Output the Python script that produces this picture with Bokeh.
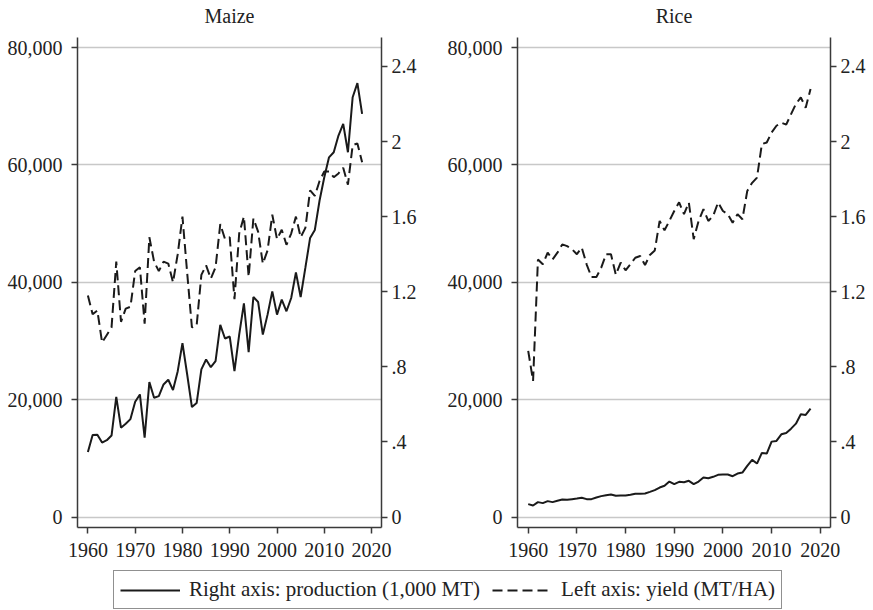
from bokeh.plotting import figure
from bokeh.models import (Range1d, LinearAxis, FixedTicker, NumeralTickFormatter,
                          CustomJSTickFormatter, Legend, LegendItem)
from bokeh.core.properties import value
from bokeh.layouts import column, row
from bokeh.embed import file_html
from bokeh.resources import INLINE

years = list(range(1960, 2019))
panel_titles = ["Maize", "Rice"]

maize_production = [11100, 14000, 14050, 12700, 13100, 13900, 20500, 15240, 15900, 16700,
                    19660, 20900, 13540, 23000, 20340, 20620, 22600, 23400, 21640, 24870,
                    29630, 24300, 18750, 19430, 25160, 26860, 25550, 26570, 32750, 30430,
                    30770, 24870, 31100, 36430, 28100, 37500, 36660, 31100, 34500, 38470,
                    34500, 37050, 35070, 37340, 41700, 37500, 42500, 47570, 48930, 53950,
                    57900, 61300, 62170, 65020, 67000, 62170, 71550, 73940, 68710]
maize_yield = [1.18, 1.08, 1.10, 0.93, 0.97, 1.01, 1.36, 1.04, 1.11, 1.12,
               1.31, 1.33, 1.03, 1.49, 1.36, 1.31, 1.36, 1.35, 1.25, 1.40,
               1.60, 1.30, 1.01, 1.02, 1.29, 1.34, 1.27, 1.33, 1.56, 1.48,
               1.49, 1.16, 1.51, 1.60, 1.28, 1.59, 1.52, 1.35, 1.42, 1.61,
               1.48, 1.53, 1.45, 1.51, 1.60, 1.49, 1.54, 1.74, 1.71, 1.79,
               1.84, 1.84, 1.81, 1.83, 1.86, 1.77, 1.98, 1.99, 1.89]
rice_production = [2210, 1980, 2550, 2380, 2720, 2550, 2780, 3000, 2950, 3060,
                   3170, 3290, 3060, 3060, 3340, 3570, 3740, 3850, 3630, 3680,
                   3680, 3800, 3970, 3970, 4020, 4300, 4590, 5040, 5330, 6060,
                   5610, 6010, 5950, 6180, 5610, 6060, 6740, 6630, 6860, 7200,
                   7250, 7250, 6970, 7420, 7590, 8730, 9750, 9120, 10940, 10820,
                   12860, 12980, 14110, 14330, 15070, 15920, 17510, 17400, 18470]
rice_yield = [0.885, 0.725, 1.372, 1.346, 1.408, 1.372, 1.408, 1.452, 1.443, 1.426,
              1.40, 1.435, 1.346, 1.278, 1.278, 1.328, 1.40, 1.40, 1.29, 1.355,
              1.314, 1.346, 1.381, 1.39, 1.342, 1.396, 1.42, 1.577, 1.527, 1.577,
              1.63, 1.676, 1.613, 1.675, 1.48, 1.577, 1.64, 1.577, 1.604, 1.675,
              1.63, 1.613, 1.568, 1.613, 1.586, 1.737, 1.78, 1.808, 1.986, 1.995,
              2.048, 2.084, 2.10, 2.09, 2.146, 2.20, 2.235, 2.18, 2.28]

left_ticks = [0, 20000, 40000, 60000, 80000]
right_ticks = [0, 0.4, 0.8, 1.2, 1.6, 2.0, 2.4]
x_ticks = [1960, 1970, 1980, 1990, 2000, 2010, 2020]
legend_labels = ["Right axis: production (1,000 MT)", "Left axis: yield (MT/HA)"]

FONT = "Liberation Serif"
INK = "#1a1a1a"
AXIS = "#3a3a3a"
GRID = "#c8c8c8"
RATIO = 32000.0
X0, X1 = 1957.8, 2022.1
Y0, Y1 = -1773, 81722
TOP = 34  # height of the title strip


def style_axis(ax, standoff):
    ax.axis_line_color = AXIS
    ax.axis_line_width = 1.5
    ax.major_tick_line_color = AXIS
    ax.major_tick_line_width = 1.5
    ax.major_tick_out = 6
    ax.major_tick_in = 0
    ax.minor_tick_line_color = None
    ax.major_label_text_font = FONT
    ax.major_label_text_font_size = "20px"
    ax.major_label_text_color = "#222222"
    ax.major_label_standoff = standoff


def make_panel(prod, yld, width, mbl, mbr):
    p = figure(width=width, height=565 - TOP, output_backend="svg", toolbar_location=None,
               x_range=Range1d(X0, X1), y_range=Range1d(Y0, Y1),
               min_border_left=mbl, min_border_right=mbr,
               min_border_top=37 - TOP, min_border_bottom=38)
    p.outline_line_color = None
    p.background_fill_color = "white"
    p.border_fill_color = "white"
    p.extra_y_ranges = {"yield": Range1d(Y0 / RATIO, Y1 / RATIO)}

    p.yaxis.ticker = FixedTicker(ticks=left_ticks)
    p.yaxis.formatter = NumeralTickFormatter(format="0,0")
    p.xaxis.ticker = FixedTicker(ticks=x_ticks)
    p.xgrid.visible = False
    p.ygrid.ticker = FixedTicker(ticks=left_ticks)
    p.ygrid.grid_line_color = GRID
    p.ygrid.grid_line_width = 1.5

    rax = LinearAxis(y_range_name="yield", ticker=FixedTicker(ticks=right_ticks),
                     formatter=CustomJSTickFormatter(code="""
                        if (Math.abs(tick) < 1e-9) return "0";
                        const s = (Math.round(tick * 10) / 10).toString();
                        return s.replace(/^0\\./, ".");
                     """))
    p.add_layout(rax, "right")
    style_axis(p.xaxis[0], 9)
    style_axis(p.yaxis[0], 9)
    style_axis(rax, 4)

    p.line(years, prod, line_color=INK, line_width=2)
    p.line(years, yld, y_range_name="yield", line_color=INK, line_width=2,
           line_dash="10 5")
    return p


p1 = make_panel(maize_production, maize_yield, 430, 77, 49)
p2 = make_panel(rice_production, rice_yield, 443, 87, 43)

# title strip: panel titles centred over each plot area (pixel coordinates)
tf = figure(width=873, height=TOP, output_backend="svg", toolbar_location=None,
            x_axis_type=None, y_axis_type=None, min_border=0,
            x_range=Range1d(0, 873), y_range=Range1d(TOP, 0))
tf.outline_line_color = None
tf.grid.visible = False
tf.text(x=[229, 673.5], y=[15, 15], text=panel_titles, text_align="center",
        text_baseline="middle", text_font=value(FONT), text_font_size="20px",
        text_color="#222222")

# legend strip below both panels (samples live outside the visible range)
lf = figure(width=873, height=45, output_backend="svg", toolbar_location=None,
            x_axis_type=None, y_axis_type=None, min_border=0,
            x_range=Range1d(0, 1), y_range=Range1d(0, 1))
lf.outline_line_color = None
lf.grid.visible = False
r1 = lf.line([-5, -4], [-5, -4], line_color=INK, line_width=2)
r2 = lf.line([-5, -4], [-5, -4], line_color=INK, line_width=2, line_dash="10 5")
legend = Legend(items=[LegendItem(label=legend_labels[0], renderers=[r1]),
                       LegendItem(label=legend_labels[1], renderers=[r2])],
                orientation="horizontal", location=(113, 1), margin=0,
                padding=6, spacing=12, glyph_width=60, glyph_height=24,
                label_height=24, label_standoff=9,
                label_text_font=FONT, label_text_font_size="21px",
                label_text_color="#222222", label_text_baseline="middle",
                border_line_color="#222222", border_line_width=1.5,
                background_fill_color="white", background_fill_alpha=1)
lf.add_layout(legend, "center")

layout = column(tf, row(p1, p2), lf)
open("out.html", "w").write(file_html(layout, INLINE))
